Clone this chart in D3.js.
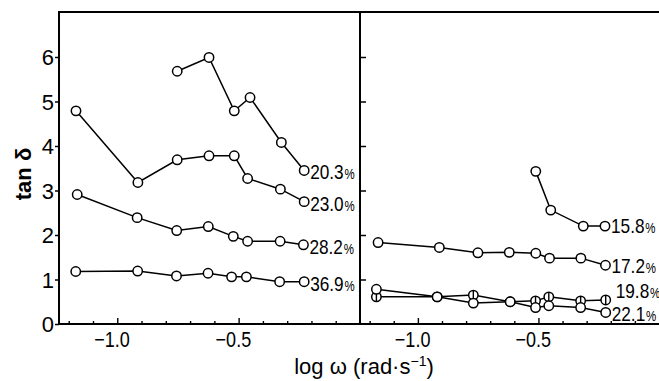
<!DOCTYPE html>
<html>
<head>
<meta charset="utf-8">
<script src="https://cdn.jsdelivr.net/npm/d3@7"></script>
<style>
  body { margin: 0; background: #fff; }
  text { font-family: "Liberation Sans", Arial, sans-serif; fill: #000; }
</style>
</head>
<body>
<div id="chart"></div>
<script>
// tick values
const yTicks = [0, 1, 2, 3, 4, 5, 6];
const xMajor = [-1.0, -0.5];
const xMinor = [-1.2, -1.1, -0.9, -0.8, -0.7, -0.6, -0.4, -0.3, -0.2, -0.1];

// left panel, log w vs tan delta
const s203_logw = [-0.753, -0.622, -0.518, -0.453, -0.324, -0.230];
const s203_tan  = [5.68, 5.99, 4.79, 5.09, 4.08, 3.45];
const s230_logw = [-1.170, -0.915, -0.753, -0.622, -0.518, -0.463, -0.328, -0.230];
const s230_tan  = [4.79, 3.18, 3.69, 3.78, 3.78, 3.27, 3.03, 2.75];
const s282_logw = [-1.165, -0.918, -0.755, -0.625, -0.522, -0.463, -0.329, -0.233];
const s282_tan  = [2.91, 2.39, 2.10, 2.19, 1.97, 1.86, 1.86, 1.78];
const s369_logw = [-1.171, -0.916, -0.756, -0.626, -0.529, -0.468, -0.331, -0.230];
const s369_tan  = [1.18, 1.19, 1.08, 1.14, 1.06, 1.06, 0.95, 0.95];

// right panel
const s158_logw = [-0.511, -0.449, -0.314, -0.224];
const s158_tan  = [3.43, 2.56, 2.20, 2.20];
const s172_logw = [-1.165, -0.911, -0.751, -0.621, -0.511, -0.454, -0.324, -0.222];
const s172_tan  = [1.83, 1.72, 1.60, 1.61, 1.59, 1.48, 1.48, 1.32];
const s198_logw = [-1.172, -0.920, -0.770, -0.617, -0.512, -0.457, -0.325, -0.221];
const s198_tan  = [0.61, 0.61, 0.65, 0.50, 0.52, 0.61, 0.52, 0.54];
const s221_logw = [-1.172, -0.920, -0.770, -0.617, -0.512, -0.457, -0.325, -0.221];
const s221_tan  = [0.78, 0.61, 0.47, 0.50, 0.37, 0.41, 0.37, 0.26];

const leftSeries = [
  { label: "20.3", x: s203_logw, y: s203_tan, dy: 1.5 },
  { label: "23.0", x: s230_logw, y: s230_tan, dy: 1.5 },
  { label: "28.2", x: s282_logw, y: s282_tan, dy: 2 },
  { label: "36.9", x: s369_logw, y: s369_tan, dy: 1.5 }
];
const rightSeries = [
  { label: "15.8", x: s158_logw, y: s158_tan, dy: -1 },
  { label: "17.2", x: s172_logw, y: s172_tan },
  { label: "19.8", x: s198_logw, y: s198_tan, bar: true, dx: 4, dy: -9 },
  { label: "22.1", x: s221_logw, y: s221_tan, dy: 1.5 }
];

const W = 659, H = 381;
const pTop = 12, pBottom = 324, pLeft = 59, pMid = 360, pRight = 659;
const r = 4.7;
const squeeze = 0.82; // the print uses a condensed face

const svg = d3.select("#chart").append("svg")
    .attr("width", W)
    .attr("height", H);

const y = d3.scaleLinear().domain([0, 7]).range([pBottom, pBottom - 7 * 44.5]);
const xL = d3.scaleLinear().domain([-1.24, 0]).range([pLeft, pMid]);
const xR = d3.scaleLinear().domain([-1.24, 0]).range([pMid, pRight]);

// x axes (ticks point inward)
function xAxes(x) {
    svg.append("g")
        .attr("transform", "translate(0," + pBottom + ")")
        .call(d3.axisBottom(x).tickValues(xMinor).tickSize(-3).tickSizeOuter(0).tickFormat(""))
        .call(g => g.select(".domain").remove())
        .selectAll("line").attr("stroke-width", 1.4);

    const g = svg.append("g")
        .attr("transform", "translate(0," + pBottom + ")")
        .call(d3.axisBottom(x).tickValues(xMajor).tickSize(-6).tickSizeOuter(0).tickFormat(d3.format(".1f")));
    g.select(".domain").remove();
    g.selectAll("line").attr("stroke-width", 1.4);
    g.selectAll("text")
        .attr("y", 23)
        .attr("dy", 0)
        .attr("x", -7)
        .attr("transform", "scale(" + squeeze + ",1)")
        .attr("fill", "#000")
        .style("font-size", "22px");
}
xAxes(xL);
xAxes(xR);

// left y axis with labels
const ya = svg.append("g")
    .attr("transform", "translate(" + pLeft + ",0)")
    .call(d3.axisLeft(y).tickValues(yTicks).tickSize(4).tickPadding(1).tickSizeOuter(0).tickFormat(d3.format("d")));
ya.select(".domain").remove();
ya.selectAll("line").attr("stroke-width", 1.5);
ya.selectAll("text").style("font-size", "22px").attr("dy", "0.36em").attr("fill", "#000");

// right panel y ticks, inward, no labels
const yr = svg.append("g")
    .attr("transform", "translate(" + pMid + ",0)")
    .call(d3.axisRight(y).tickValues(yTicks.slice(1)).tickSize(6).tickSizeOuter(0).tickFormat(""));
yr.select(".domain").remove();
yr.selectAll("line").attr("stroke-width", 1.5);

// frame
const frame = svg.append("g").attr("stroke", "#000").attr("stroke-width", 2).attr("fill", "none");
frame.append("line").attr("x1", pLeft).attr("x2", pLeft).attr("y1", pTop - 1).attr("y2", pBottom);
frame.append("line").attr("x1", pLeft - 1).attr("x2", pRight).attr("y1", pTop).attr("y2", pTop);
frame.append("line").attr("x1", pMid).attr("x2", pMid).attr("y1", pTop).attr("y2", pBottom);
frame.append("line").attr("x1", pLeft - 1).attr("x2", pRight).attr("y1", pBottom).attr("y2", pBottom);

function drawSeries(list, x) {
    list.forEach(s => {
        const pts = s.x.map((v, i) => [v, s.y[i]]);
        const g = svg.append("g");
        g.append("path")
            .attr("d", d3.line().x(d => x(d[0])).y(d => y(d[1]))(pts))
            .attr("fill", "none")
            .attr("stroke", "#000")
            .attr("stroke-width", 1.5);
        g.selectAll("circle")
            .data(pts)
            .enter().append("circle")
            .attr("cx", d => x(d[0]))
            .attr("cy", d => y(d[1]))
            .attr("r", r)
            .attr("fill", "#fff")
            .attr("stroke", "#000")
            .attr("stroke-width", 1.5);
        if (s.bar) {
            g.selectAll(".bar")
                .data(pts)
                .enter().append("line")
                .attr("x1", d => x(d[0])).attr("x2", d => x(d[0]))
                .attr("y1", d => y(d[1]) - r).attr("y2", d => y(d[1]) + r)
                .attr("stroke", "#000")
                .attr("stroke-width", 1.4);
        }
        const last = pts[pts.length - 1];
        const tx = x(last[0]) + 6 + (s.dx || 0);
        const ty = y(last[1]) + 7.5 + (s.dy || 0);
        const t = g.append("text")
            .attr("transform", "translate(" + tx + "," + ty + ") scale(" + squeeze + ",1)")
            .style("font-size", "21px");
        t.append("tspan").text(s.label);
        t.append("tspan").attr("dx", 1).style("font-size", "14px").text("%");
    });
}
drawSeries(leftSeries, xL);
drawSeries(rightSeries, xR);

// axis titles
svg.append("text")
    .attr("transform", "translate(31,174) rotate(-90)")
    .attr("text-anchor", "middle")
    .style("font-weight", "bold")
    .style("font-size", "22px")
    .text("tan δ");

const xt = svg.append("text")
    .attr("x", 364)
    .attr("y", 374)
    .attr("text-anchor", "middle")
    .style("font-size", "22px");
xt.append("tspan").text("log ω (rad·s");
xt.append("tspan").attr("dy", -8).style("font-size", "14px").text("−1");
xt.append("tspan").attr("dy", 8).text(")");
</script>
</body>
</html>
